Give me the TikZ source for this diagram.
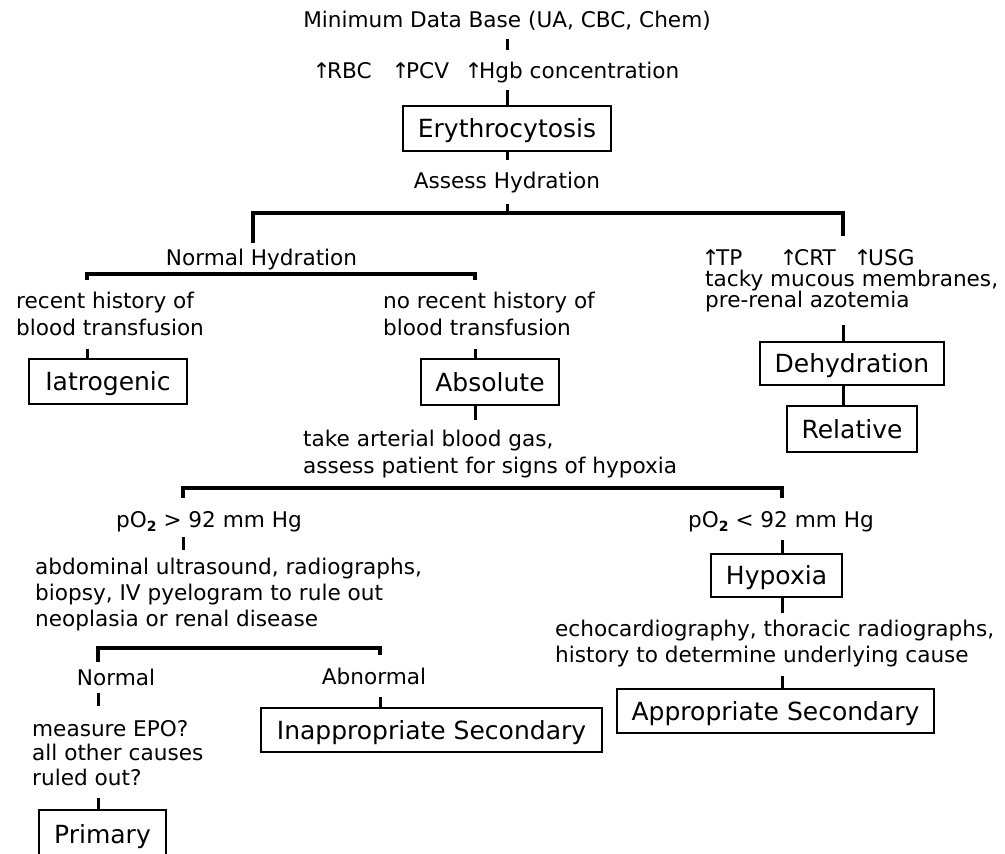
\documentclass[tikz,border=0pt]{standalone}
\usepackage{fontspec}
\setmainfont{DejaVu Sans}
\newcommand\upar{\makebox[11pt][c]{↑}}
\newcommand\subtwo{\raisebox{-4.5pt}{\fontsize{14}{14}\selectfont\bfseries 2}}
\begin{document}
\begin{tikzpicture}[x=1pt,y=-1pt,
  txt/.style={font=\fontsize{21.6}{27}\selectfont, inner sep=0pt, text height=16pt, text depth=5pt},
  mtxt/.style={font=\fontsize{21.6}{#1}\selectfont, inner sep=0pt, align=left, anchor=north west},
  mtxt/.default=27,
  box/.style={draw, line width=1.6pt, inner sep=0pt, font=\fontsize{25}{29}\selectfont, text height=18.2pt, text depth=0pt},
  tick/.style={line width=3pt},
  bar/.style={line width=3.5pt, line join=miter}]
\fill[white] (0,0) rectangle (1005,854);
\useasboundingbox (0,0) rectangle (1005,854);
% nodes
\node[txt, anchor=base] (mdb) at (507,27) {Minimum Data Base (UA, CBC, Chem)};
\node[txt, anchor=base west] (rbc) at (316,78) {\makebox[79pt][l]{\upar RBC}\makebox[73pt][l]{\upar PCV}\upar Hgb concentration};
\node[box, minimum width=208pt, minimum height=45pt] (ery) at (507,128.5) {Erythrocytosis};
\node[txt, anchor=base] (ah) at (507,188) {Assess Hydration};
\coordinate (b1l) at (253,213);
\coordinate (b1r) at (843,213);
\node[txt, anchor=base] (nh) at (261.5,265) {Normal Hydration};
\coordinate (b2l) at (87,274);
\coordinate (b2r) at (475,274);
\node[mtxt] (rh) at (16,291.5) {recent history of\\blood transfusion};
\node[mtxt] (nrh) at (383,291.5) {no recent history of\\blood transfusion};
\node[box, minimum width=158pt, minimum height=45pt] (iat) at (108,381.5) {Iatrogenic};
\node[box, minimum width=138pt, minimum height=46pt] (abs) at (490,382) {Absolute};
\node[mtxt=21] (dsign) at (705,249) {\makebox[78pt][l]{\upar TP}\makebox[74pt][l]{\upar CRT}\upar USG\\tacky mucous membranes,\\pre-renal azotemia};
\node[box, minimum width=184pt, minimum height=43pt] (dehy) at (852,363.5) {Dehydration};
\node[box, minimum width=130pt, minimum height=46pt] (rel) at (852,429) {Relative};
\node[mtxt] (abg) at (303,429.5) {take arterial blood gas,\\assess patient for signs of hypoxia};
\coordinate (b3l) at (183,488);
\coordinate (b3r) at (782,488);
\node[txt, anchor=base west] (po1) at (116,527) {pO\subtwo{} > 92 mm Hg};
\node[txt, anchor=base west] (po2) at (688,527) {pO\subtwo{} < 92 mm Hg};
\node[mtxt=26] (abd) at (35,557.5) {abdominal ultrasound, radiographs,\\biopsy, IV pyelogram to rule out\\neoplasia or renal disease};
\coordinate (b4l) at (98,648);
\coordinate (b4r) at (380,648);
\node[txt, anchor=base] (nrm) at (116,685) {Normal};
\node[txt, anchor=base] (abn) at (374,684) {Abnormal};
\node[mtxt=24.5] (epo) at (32,720) {measure EPO?\\all other causes\\ruled out?};
\node[box, minimum width=127pt, minimum height=49pt] (prim) at (102.5,834.5) {Primary};
\node[box, minimum width=341pt, minimum height=44pt] (ins) at (431.5,730) {Inappropriate Secondary};
\node[box, minimum width=131pt, minimum height=43pt] (hyp) at (776.5,575.5) {Hypoxia};
\node[mtxt=26] (echo) at (555,619.5) {echocardiography, thoracic radiographs,\\history to determine underlying cause};
\node[box, minimum width=317pt, minimum height=44pt] (app) at (775.5,711) {Appropriate Secondary};
% connectors
\draw[tick, shorten <=7pt, shorten >=12pt] (mdb.south) -- (rbc.north -| mdb.south);
\draw[tick, shorten <=7pt] (rbc.south -| ery.north) -- (ery.north);
\draw[tick, shorten >=12pt] (ery.south) -- (ah.north);
\draw[tick, shorten <=11pt] (ah.south) -- (ah.south |- b1l);
\draw[bar, shorten <=6pt, shorten >=13.5pt] (nh.north -| b1l) -- (b1l) -- (b1r) -- (dsign.north -| b1r);
\draw[bar, shorten <=12pt, shorten >=12pt] (rh.north -| b2l) -- (b2l) -- (b2r) -- (nrh.north -| b2r);
\draw[tick, shorten <=13pt] (rh.south -| b2l) -- (iat.north -| b2l);
\draw[tick, shorten <=13pt] (nrh.south -| b2r) -- (abs.north -| b2r);
\draw[tick, shorten <=13pt] (dsign.south -| b1r) -- (dehy.north -| b1r);
\draw[tick] (dehy.south -| b1r) -- (rel.north -| b1r);
\draw[tick, shorten >=9.5pt] (abs.south -| b2r) -- (abg.north -| b2r);
\draw[bar, shorten <=13pt, shorten >=13pt] (po1.north -| b3l) -- (b3l) -- (b3r) -- (po2.north -| b3r);
\draw[tick, shorten <=5pt, shorten >=7.5pt] (po1.south -| b3l) -- (abd.north -| b3l);
\draw[bar, shorten <=7pt, shorten >=13pt] (nrm.north -| b4l) -- (b4l) -- (b4r) -- (abn.north -| b4r);
\draw[tick, shorten <=3pt, shorten >=14pt] (nrm.south -| b4l) -- (epo.north -| b4l);
\draw[tick, shorten <=12pt] (epo.south -| b4l) -- (prim.north -| b4l);
\draw[tick, shorten <=8pt] (abn.south -| b4r) -- (ins.north -| b4r);
\draw[tick, shorten <=8pt] (po2.south -| b3r) -- (hyp.north -| b3r);
\draw[tick, shorten >=6.5pt] (hyp.south -| b3r) -- (echo.north -| b3r);
\draw[tick, shorten <=9pt] (echo.south -| b3r) -- (app.north -| b3r);
\end{tikzpicture}
\end{document}
